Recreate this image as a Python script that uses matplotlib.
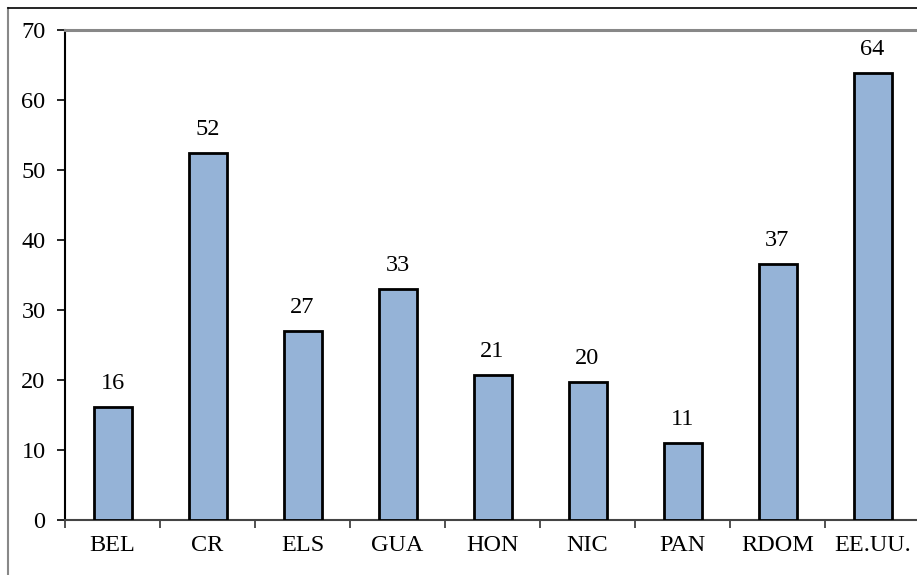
import matplotlib
matplotlib.use("Agg")
import matplotlib.pyplot as plt
from matplotlib.lines import Line2D

categories = ["BEL", "CR", "ELS", "GUA", "HON", "NIC", "PAN", "RDOM", "EE.UU."]
values = [16.1, 52.4, 27.0, 33.0, 20.7, 19.7, 11.0, 36.6, 63.8]
yticks = [0, 10, 20, 30, 40, 50, 60, 70]

plt.rcParams['font.family'] = ['Liberation Serif', 'DejaVu Serif']

W, H = 917, 575
fig = plt.figure(figsize=(W / 100, H / 100), dpi=100)
ax = fig.add_axes([65 / W, (H - 520) / H, (920 - 65) / W, (520 - 30) / H])

FS = 17.5
x = list(range(len(categories)))
ax.bar(x, values, width=0.4, color="#95b3d7", edgecolor="black", linewidth=2.0, zorder=3)
for xi, v in zip(x, values):
    ax.text(xi, v + 1.9, f"{v:.0f}", ha="center", va="bottom", fontsize=FS)

ax.set_xlim(-0.5, len(categories) - 0.5)
ax.set_ylim(0, 70)
ax.set_yticks(yticks)
ax.set_xticks(x)
ax.set_xticklabels(categories)
ax.set_xticks([i + 0.5 for i in range(-1, len(categories))], minor=True)
ax.tick_params(axis="x", which="major", length=0, pad=11, labelsize=FS)
ax.tick_params(axis="x", which="minor", length=6, width=1.2, color="#333333", direction="out")
ax.tick_params(axis="y", length=6, width=1.2, direction="out", pad=8, labelsize=FS)

ax.spines["right"].set_visible(False)
ax.spines["top"].set_color("#888888")
ax.spines["top"].set_linewidth(2.2)
ax.spines["left"].set_color("black")
ax.spines["left"].set_linewidth(1.5)
ax.spines["bottom"].set_color("#444444")
ax.spines["bottom"].set_linewidth(1.5)

# outer chart frame
fig.add_artist(Line2D([8 / W, 8 / W], [0, 1 - 8 / H], transform=fig.transFigure, color="#888888", linewidth=1.5))
fig.add_artist(Line2D([8 / W, 1], [1 - 8 / H, 1 - 8 / H], transform=fig.transFigure, color="black", linewidth=1.2))

fig.savefig("out.png", dpi=100)
